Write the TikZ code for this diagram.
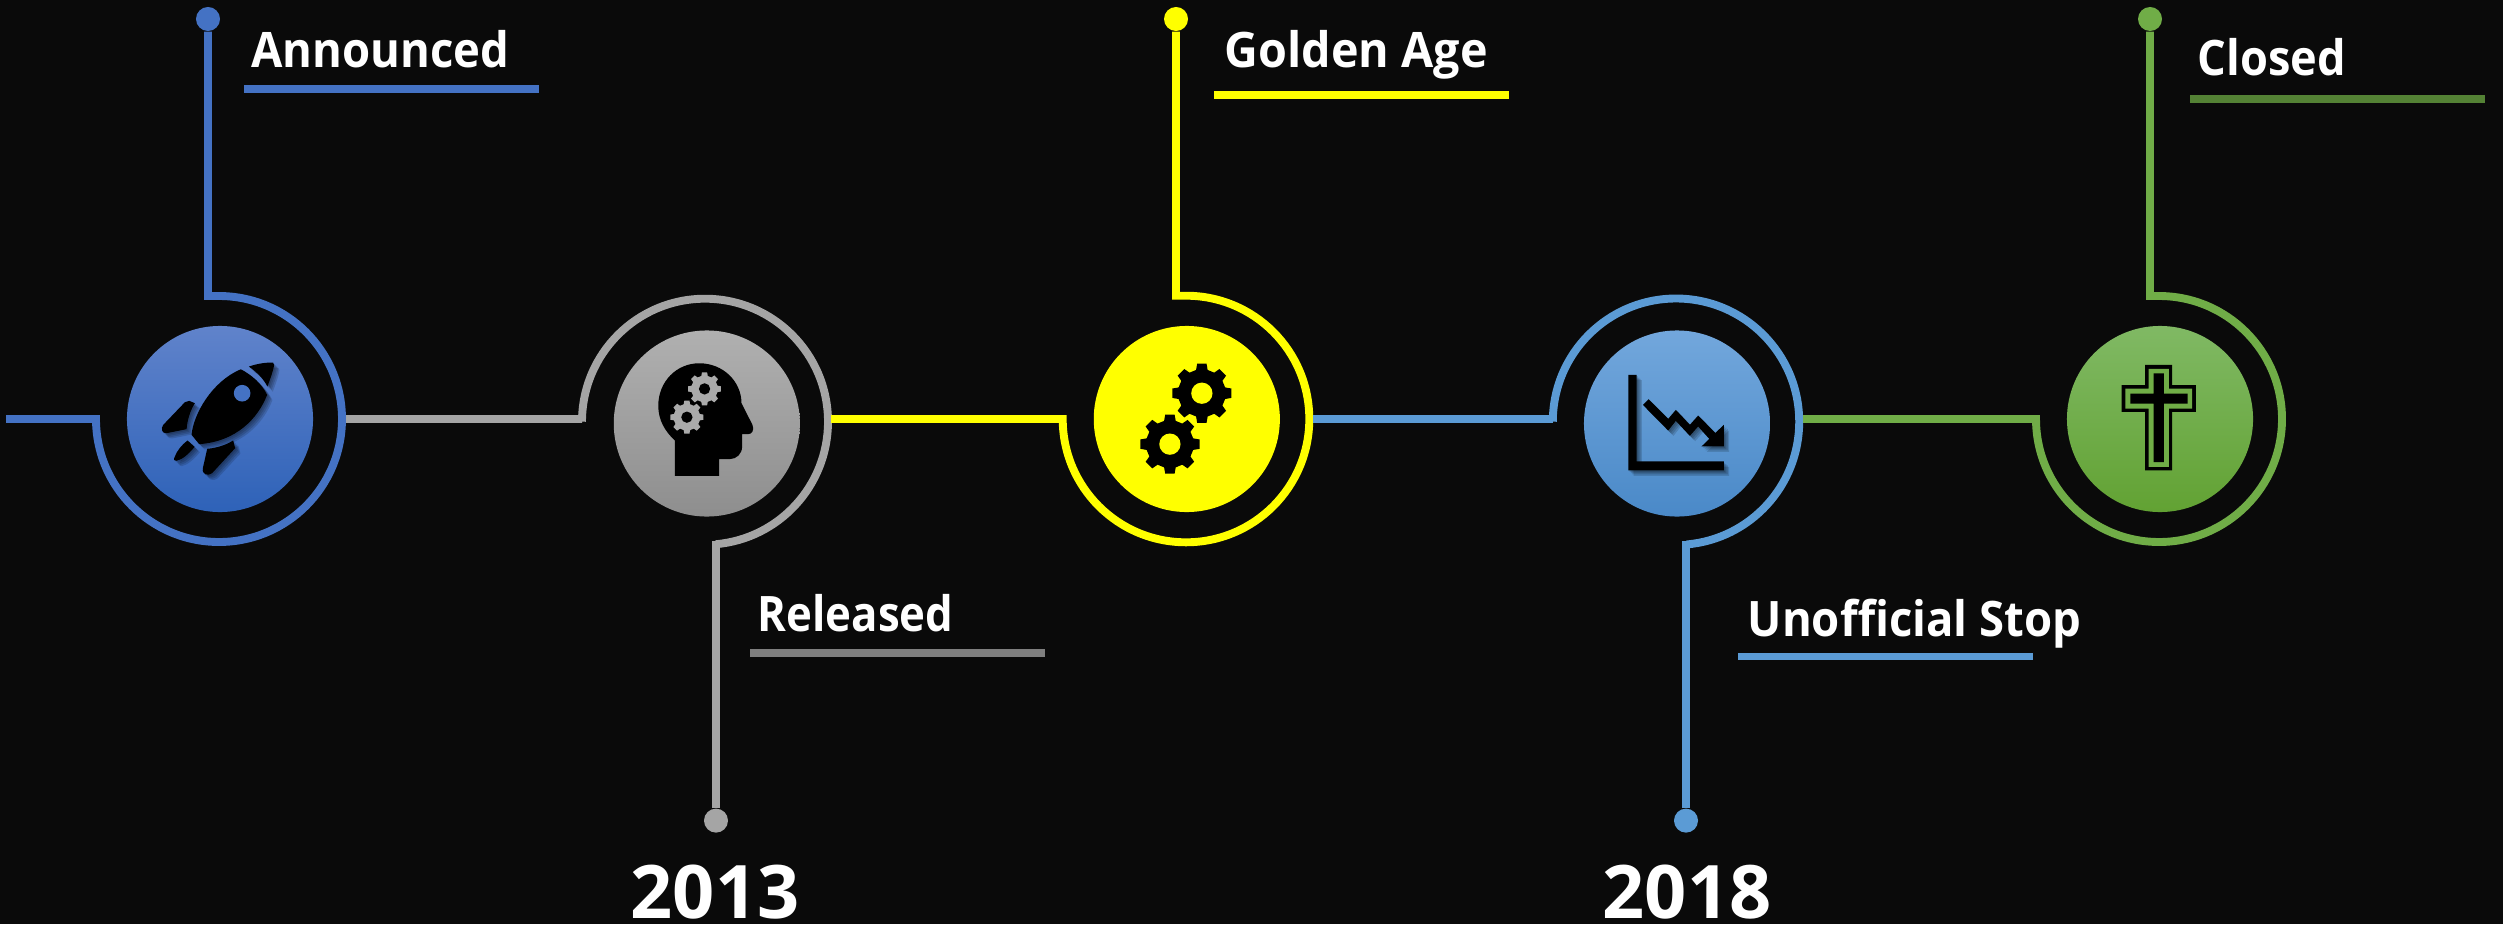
\documentclass[tikz,border=0pt]{standalone}
\usepackage{graphicx}
\usepackage{fontspec}
\setmainfont{Open Sans}
\definecolor{bgc}{HTML}{0A0A0A}
\definecolor{cblue}{HTML}{4472C4}
\definecolor{cgrey}{HTML}{A5A5A5}
\definecolor{cyel}{HTML}{FFFF00}
\definecolor{clight}{HTML}{5B9BD5}
\definecolor{cgreen}{HTML}{70AD47}
\definecolor{cdkgreen}{HTML}{548235}
\definecolor{cdkgrey}{HTML}{7F7F7F}
\definecolor{bluetop}{HTML}{6083CB}
\definecolor{bluemid}{HTML}{4472C4}
\definecolor{bluebot}{HTML}{2E62B8}
\definecolor{greytop}{HTML}{B0B0B0}
\definecolor{greybot}{HTML}{8E8E8E}
\definecolor{lighttop}{HTML}{72A7DC}
\definecolor{lightmid}{HTML}{5599DB}
\definecolor{lightbot}{HTML}{4A89C8}
\definecolor{greentop}{HTML}{80B964}
\definecolor{greenmid}{HTML}{6FAE45}
\definecolor{greenbot}{HTML}{62A233}
\newcommand\sq[2]{\scalebox{#1}[1]{#2}}
\newcommand\gearat[6]{\begin{scope}[shift={(#1,#2)}]
  \fill[#4] ({-9}:#3) \foreach \a in {0,45,...,315}{ -- ({\a-9}:#3) -- ({\a+9}:#3) -- ({\a+14}:{0.8*#3}) -- ({\a+31}:{0.8*#3})} -- cycle;
  \fill[#5] (0,0) circle[radius=#6];
\end{scope}}
\newcommand\rocketshape{
  (333,148) .. controls (365,165) and (395,190) .. (412,225) .. controls (385,295) and (320,365) .. (208,373) -- (185,345) .. controls (190,285) and (245,185) .. (333,148) -- cycle
  (357,140) .. controls (385,130) and (415,127) .. (430,128) -- (433,135) .. controls (430,155) and (420,180) .. (413,200) .. controls (400,175) and (380,155) .. (357,140) -- cycle
  (195,250) -- (178,243) -- (165,247) -- (100,315) .. controls (92,325) and (95,342) .. (110,340) -- (170,328) .. controls (172,300) and (182,270) .. (195,250) -- cycle
  (173,362) -- (194,381) .. controls (175,405) and (155,420) .. (140,423) .. controls (130,422) and (131,418) .. (135,410) .. controls (140,395) and (155,375) .. (173,362) -- cycle
  (232,387) .. controls (260,385) and (290,375) .. (310,362) -- (316,385) -- (247,460) .. controls (235,470) and (215,465) .. (219,445) -- cycle}
\newcommand\chartshape{
  (145,165) -- (170,165) -- (170,425) -- (432,425) -- (432,452) -- (145,452) -- cycle
  (432,315) -- (432,380) -- (365,380) -- cycle
  (189,255) -- (206,238) -- (265,297) -- (288,270) -- (330,315) -- (355,287) -- (410,343) -- (393,362) -- (355,320) -- (330,348) -- (288,303) -- (265,332) -- cycle}
\tikzset{
  wire/.style={line width=0.079cm,line join=miter,line cap=butt},
  disc/.style={circle,inner sep=0pt,minimum size=1.86cm,draw=none},
  dotn/.style={circle,inner sep=0pt,minimum size=0.24cm,fill=#1,draw=none},
  lab/.style={anchor=base west,inner sep=0pt,text=white,font=\fontsize{13.9}{16}\selectfont\bfseries},
  yearlab/.style={anchor=base,inner sep=0pt,text=white,font=\fontsize{21}{24}\selectfont\bfseries},
  zoomed/.style={x=0.003333cm,y=-0.003333cm}
}
\begin{document}
\begin{tikzpicture}[x=0.01cm,y=-0.01cm]
\useasboundingbox (0,0) rectangle (2503,924);
\fill[bgc] (0,0) rectangle (2503,924);

% discs
\node[disc,top color=bluetop,middle color=bluemid,bottom color=bluebot] (n1) at (220,419) {};
\node[disc,top color=greytop,bottom color=greybot] (n2) at (706.8,423.5) {};
\node[disc,fill=cyel] (n3) at (1186.8,419) {};
\node[disc,top color=lighttop,middle color=lightmid,bottom color=lightbot] (n4) at (1677,423.5) {};
\node[disc,top color=greentop,middle color=greenmid,bottom color=greenbot] (n5) at (2160,419) {};

% end dots
\node[dotn=cblue] (d1) at (208,19) {};
\node[dotn=cgrey] (d2) at (716,820.6) {};
\node[dotn=cyel] (d3) at (1176,19) {};
\node[dotn=clight] (d4) at (1686,820.6) {};
\node[dotn=cgreen] (d5) at (2150,19) {};

% ring anchors
\coordinate (s1) at (6,419);
\coordinate (i1) at (96,419);
\coordinate (t1) at (208,296);
\coordinate (s2) at (346,419);
\coordinate (e2) at (582,419);
\coordinate (i2) at (582,421.7);
\coordinate (t2) at (716,541);
\coordinate (s3) at (831,419);
\coordinate (i3) at (1062.7,419);
\coordinate (t3) at (1176,295.7);
\coordinate (s4) at (1313,419);
\coordinate (e4) at (1552.8,419);
\coordinate (i4) at (1552.8,421.7);
\coordinate (t4) at (1686,541);
\coordinate (s5) at (1803,419);
\coordinate (i5) at (2036,419);
\coordinate (t5) at (2150,296);

% connectors with rings
\draw[wire,cblue] (s1) -- (i1) arc[start angle=180,end angle=-90,radius=123] -- (t1) -- (d1);
\draw[wire,cgrey] (s2) -- (e2) -- (i2) arc[start angle=180,end angle=445,radius=123] (t2) -- (d2);
\draw[wire,cyel] (s3) -- (i3) arc[start angle=180,end angle=-90,radius=123.3] -- (t3) -- (d3);
\draw[wire,clight] (s4) -- (e4) -- (i4) arc[start angle=180,end angle=445,radius=123.2] (t4) -- (d4);
\draw[wire,cgreen] (s5) -- (i5) arc[start angle=180,end angle=-90,radius=123] -- (t5) -- (d5);

% labels
\node[lab] (l1) at (250.5,67.5) {\sq{.93}{Announced}};
\node[lab] (l2) at (757,631) {\sq{.895}{Released}};
\node[lab] (l3) at (1224,67.5) {\sq{.955}{Golden Age}};
\node[lab] (l4) at (1747,636.5) {\sq{.93}{Unofficial Stop}};
\node[lab] (l5) at (2197,75.8) {\sq{.924}{Closed}};
\node[yearlab] (y1) at (715,918) {2013};
\node[yearlab] (y2) at (1687,918) {2018};

% underlines
\coordinate (u1a) at (244,89); \coordinate (u1b) at (539,89);
\coordinate (u2a) at (750,652.7); \coordinate (u2b) at (1044.7,652.7);
\coordinate (u3a) at (1214,95); \coordinate (u3b) at (1508.7,95);
\coordinate (u4a) at (1738,656.5); \coordinate (u4b) at (2033,656.5);
\coordinate (u5a) at (2190,99); \coordinate (u5b) at (2484.7,99);
\draw[wire,cblue] (u1a) -- (u1b);
\draw[wire,cdkgrey] (u2a) -- (u2b);
\draw[wire,cyel] (u3a) -- (u3b);
\draw[wire,clight] (u4a) -- (u4b);
\draw[wire,cdkgreen] (u5a) -- (u5b);

% rocket icon
\begin{scope}[shift={(130,320)},zoomed]
  \foreach \o in {4,8,12,16}{\fill[black,opacity=.14,shift={(\o,\o)}] \rocketshape;}
  \fill[black] \rocketshape;
  \fill[cblue] (337,220) circle[radius=25];
\end{scope}

% head icon
\begin{scope}[shift={(620,320)},zoomed]
  \fill[black] (165,468) -- (165,362) .. controls (135,335) and (115,300) .. (115,258) .. controls (115,185) and (170,130) .. (238,130) .. controls (310,130) and (365,185) .. (365,250) -- (398,315) .. controls (405,332) and (395,343) .. (385,343) -- (367,343) -- (367,380) .. controls (367,402) and (350,418) .. (330,418) -- (298,418) -- (298,468) -- cycle;
  \gearat{254}{207}{50}{cgrey!95!white}{black}{17}
  \gearat{201}{292}{50}{cgrey!95!white}{black}{17}
\end{scope}

% gears icon
\begin{scope}[shift={(1110,320)},zoomed]
  \gearat{276}{220}{90}{black}{cyel}{32}
  \gearat{180}{373}{90}{black}{cyel}{32}
\end{scope}

% chart icon
\begin{scope}[shift={(1580,320)},zoomed]
  \foreach \o in {4,8,12,16}{\fill[black,opacity=.14,shift={(\o,\o)}] \chartshape;}
  \fill[black] \chartshape;
\end{scope}

% cross icon
\begin{scope}[shift={(2070,320)},zoomed]
  \fill[black] (226,135) -- (307,135) -- (307,196) -- (378,196) -- (378,276) -- (307,276) -- (307,452) -- (226,452) -- (226,276) -- (155,276) -- (155,196) -- (226,196) -- cycle;
  \fill[cgreen] (236,147) -- (297,147) -- (297,206) -- (367,206) -- (367,266) -- (297,266) -- (297,441) -- (236,441) -- (236,266) -- (166,266) -- (166,206) -- (236,206) -- cycle;
  \fill[black] (251,160) -- (282,160) -- (282,221) -- (353,221) -- (353,251) -- (282,251) -- (282,427) -- (251,427) -- (251,251) -- (181,251) -- (181,221) -- (251,221) -- cycle;
\end{scope}
\end{tikzpicture}
\end{document}
